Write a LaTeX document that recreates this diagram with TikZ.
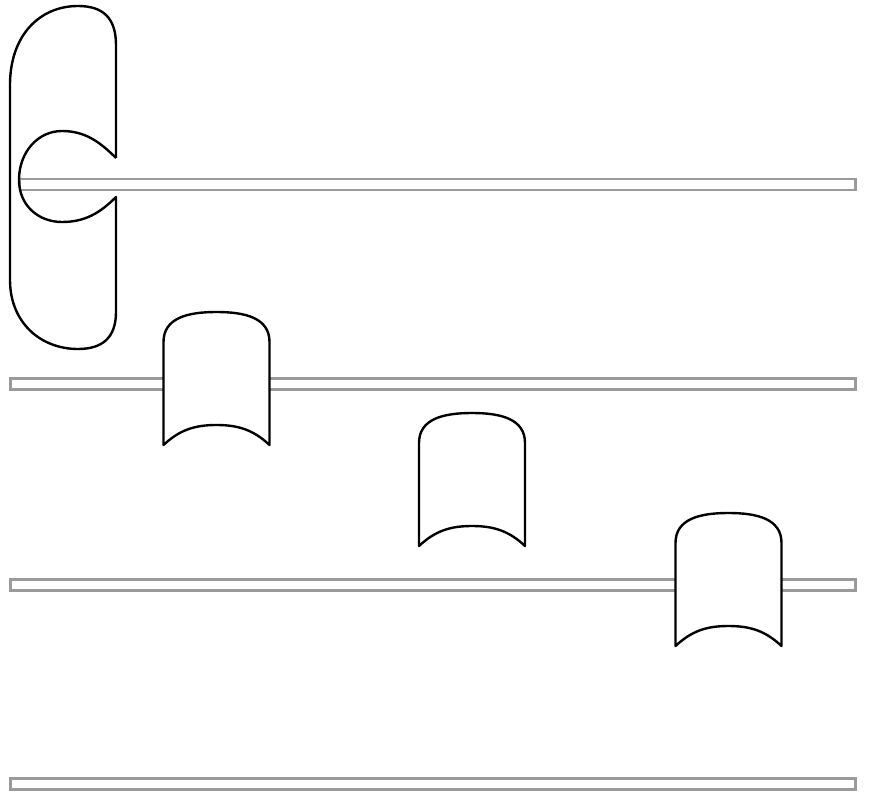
\documentclass[tikz,border=0pt]{standalone}
\usepackage{tikz}
\definecolor{bargray}{RGB}{155,155,155}
\tikzset{
  barline/.style={draw=bargray, line width=2.5pt, fill=white},
  outline/.style={draw=black, line width=2.4pt, line join=round},
  tabshape/.style={outline, fill=white}
}
\newcommand\mytab[2]{%
  \draw[tabshape] (#1,#2+133) -- (#1,#2+30)
    .. controls (#1,#2+6) and (#1+24,#2) .. (#1+53,#2)
    .. controls (#1+82,#2) and (#1+106,#2+6) .. (#1+106,#2+30)
    -- (#1+106,#2+133)
    .. controls (#1+90,#2+118) and (#1+75,#2+113) .. (#1+53,#2+113)
    .. controls (#1+31,#2+113) and (#1+16,#2+118) .. (#1,#2+133) -- cycle;}
\begin{document}
\begin{tikzpicture}[x=1pt,y=-1pt]
\useasboundingbox (0,0) rectangle (869,794);
% bars
\draw[barline] (20,179) rectangle (855.5,190);
\draw[barline] (10.5,378.5) rectangle (855.5,389.5);
\draw[barline] (10.5,579.5) rectangle (855.5,590.5);
\draw[barline] (10.5,778.5) rectangle (855.5,789.5);
% left shape
\draw[outline] (116,158) -- (116,45)
  .. controls (116,17) and (102,6) .. (78,6)
  .. controls (40,6) and (10,35) .. (10,85)
  -- (10,280)
  .. controls (10,322) and (40,349) .. (78,349)
  .. controls (102,349) and (116,338) .. (116,312)
  -- (116,197)
  .. controls (100,213) and (85,222) .. (62,222)
  .. controls (38,222) and (19,205) .. (19,180)
  .. controls (19,152) and (38,131) .. (62,131)
  .. controls (85,131) and (100,142) .. (116,158);
% tabs
\mytab{163.5}{312}
\mytab{419}{413}
\mytab{675.5}{513}
\end{tikzpicture}
\end{document}
